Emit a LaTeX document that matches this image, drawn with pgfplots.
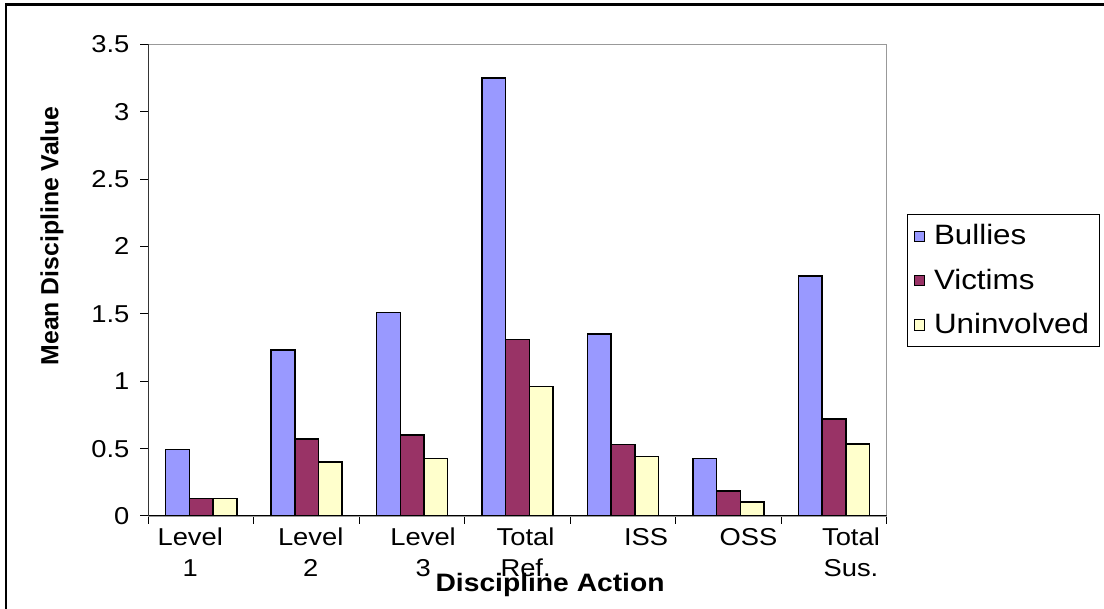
\documentclass[border=0pt]{standalone}
\usepackage{pgfplots}
\pgfplotsset{compat=1.18}
\usepackage{fontspec}
\setmainfont{Liberation Sans}[FakeStretch=1.12]
\newfontfamily\plainsans{Liberation Sans}
\definecolor{cbul}{HTML}{9999FF}
\definecolor{cvic}{HTML}{993366}
\definecolor{cuni}{HTML}{FFFFCC}
\begin{document}
\begin{tikzpicture}
\useasboundingbox (0,0) rectangle (552pt,304.5pt);
\draw[line width=1.2pt] (3pt,0) -- (3pt,302.3pt) -- (552pt,302.3pt);
\begin{axis}[
  at={(74.25pt,46.5pt)}, anchor=south west,
  scale only axis, width=369.1pt, height=235.85pt,
  ybar=0pt, bar width=11.85pt,
  xmin=-0.5, xmax=6.5, ymin=0, ymax=3.5,
  ytick={0,0.5,...,3.5},
  yticklabels={0,0.5,1,1.5,2,2.5,3,3.5},
  xtick={0,...,6},
  xticklabels={{Level\\1},{Level\\2},{Level\\3},{Total\\Ref.},{ISS},{OSS},{Total\\Sus.}},
  minor xtick={-0.5,0.5,...,6.5},
  xtick pos=bottom, ytick pos=left,
  tick align=outside,
  major x tick style={draw=none},
  minor tick length=4pt, major tick length=4pt,
  tick style={black, line width=0.5pt},
  axis line style={gray!80, line width=0.6pt},
  xticklabel style={align=center, font=\fontsize{12.2}{15.5}\selectfont, yshift=1.5pt,
    xshift={{-5.5,2,5.5,4,11.5,10,8.5}[\ticknum]*1pt}},
  yticklabel style={font=\fontsize{12.2}{13}\selectfont, xshift=-2pt},
  /pgf/number format/assume math mode=true,
  xlabel={\textbf{Discipline Action}},
  xlabel style={at={(axis description cs:0.544,-0.146)}, anchor=center, font=\fontsize{12.6}{14}\selectfont},
  ylabel={\plainsans\bfseries Mean Discipline Value},
  ylabel style={at={(axis description cs:-0.1307,0.594)}, anchor=center, font=\fontsize{12.4}{14}\selectfont},
  legend style={at={(rel axis cs:1.0275,0.640)}, anchor=north west, draw=black, line width=0.5pt,
    font=\fontsize{14}{15}\selectfont, row sep=6.5pt, inner xsep=3pt, inner ysep=3pt},
  legend cell align=left,
  legend image code/.code={\path[draw=none,fill=none] (0pt,0pt) -- (8pt,0pt); \draw[#1, draw=black, line width=0.5pt] (0pt,-2.6pt) rectangle (5.2pt,2.6pt);},
  every axis plot/.append style={draw=black, line width=0.75pt},
]
\addplot[fill=cbul] coordinates {(0,0.494) (1,1.23) (2,1.51) (3,3.25) (4,1.35) (5,0.427) (6,1.78)};
\addplot[fill=cvic] coordinates {(0,0.13) (1,0.573) (2,0.60) (3,1.31) (4,0.53) (5,0.185) (6,0.72)};
\addplot[fill=cuni] coordinates {(0,0.13) (1,0.40) (2,0.427) (3,0.96) (4,0.44) (5,0.104) (6,0.533)};
\legend{Bullies,Victims,Uninvolved}
\draw[black, line width=0.6pt] (rel axis cs:0,1) -- (rel axis cs:0,0) -- (rel axis cs:1,0);
\end{axis}
\end{tikzpicture}
\end{document}
